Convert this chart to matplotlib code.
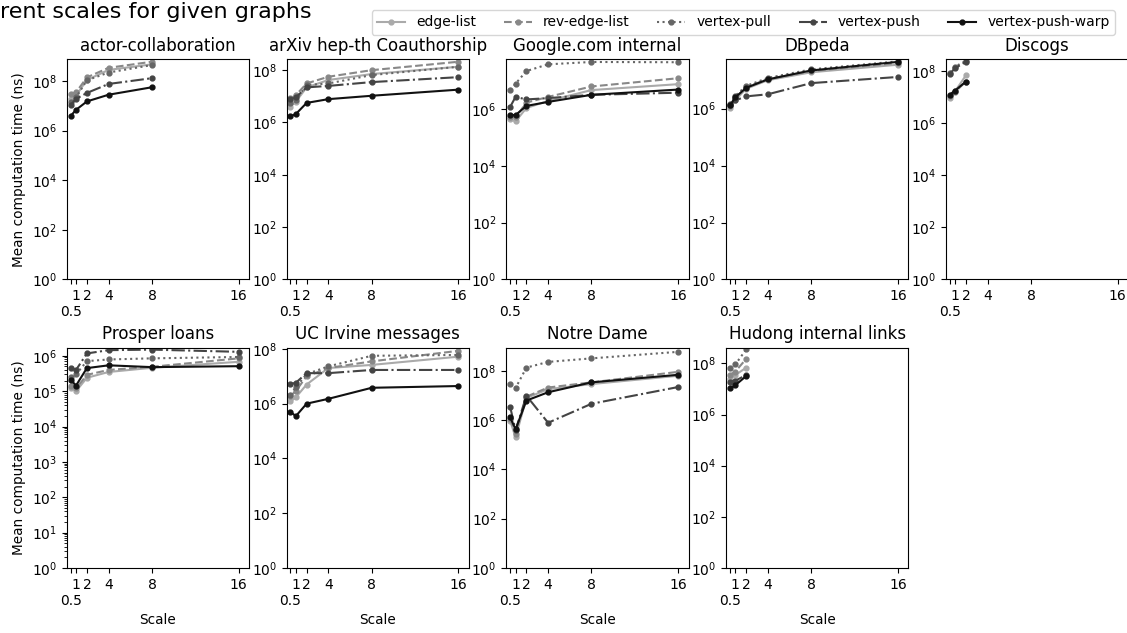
import numpy as np
import matplotlib
matplotlib.use("Agg")
import matplotlib.pyplot as plt
from matplotlib.ticker import LogLocator

scales = [0.5, 1, 2, 4, 8, 16]
methods = ["edge-list", "rev-edge-list", "vertex-pull", "vertex-push", "vertex-push-warp"]
colors = ["#aaaaaa", "#888888", "#666666", "#444444", "#111111"]
styles = ["-", "--", ":", "-.", "-"]

graphs = ["actor-collaboration", "arXiv hep-th Coauthorship", "Google.com internal",
          "DBpeda", "Discogs", "Prosper loans", "UC Irvine messages", "Notre Dame",
          "Hudong internal links"]

# mean time in ns, one row per method (same order as methods)
actor_collab = [
    [1.9e7, 2.6e7, 1.1e8, 2.8e8, 4.7e8],
    [3.0e7, 3.5e7, 1.4e8, 3.4e8, 6.0e8],
    [1.4e7, 2.2e7, 1.07e8, 2.2e8, 4.4e8],
    [1.07e7, 1.9e7, 3.3e7, 7.6e7, 1.3e8],
    [3.9e6, 6.9e6, 1.5e7, 2.8e7, 5.6e7],
]
arxiv = [
    [4.0e6, 6.2e6, 2.2e7, 4.2e7, 7.1e7, 1.35e8],
    [8.3e6, 1.1e7, 3.1e7, 5.6e7, 1.0e8, 2.1e8],
    [5.4e6, 7.1e6, 2.7e7, 3.1e7, 6.5e7, 1.35e8],
    [7.6e6, 9.1e6, 2.2e7, 2.5e7, 3.5e7, 5.4e7],
    [1.7e6, 2.1e6, 5.6e6, 7.8e6, 1.05e7, 1.8e7],
]
google = [
    [4.5e5, 3.7e5, 1.1e6, 1.95e6, 4.7e6, 7.6e6],
    [5.4e5, 5.1e5, 1.7e6, 2.7e6, 6.3e6, 1.23e7],
    [4.8e6, 7.9e6, 2.2e7, 3.8e7, 4.6e7, 4.5e7],
    [1.2e6, 2.7e6, 2.2e6, 2.45e6, 3.2e6, 3.8e6],
    [6.2e5, 6.2e5, 1.3e6, 1.8e6, 3.2e6, 4.9e6],
]
dbpeda = [
    [1.05e6, 2.0e6, 5.0e6, 1.0e7, 1.9e7, 3.5e7],
    [1.2e6, 2.3e6, 5.6e6, 1.1e7, 2.1e7, 4.0e7],
    [1.5e6, 2.8e6, 6.3e6, 1.2e7, 2.4e7, 4.6e7],
    [1.3e6, 1.95e6, 2.7e6, 3.2e6, 7.9e6, 1.3e7],
    [1.3e6, 2.5e6, 5.4e6, 1.07e7, 2.2e7, 4.4e7],
]
discogs = [
    [9.5e6, 1.7e7, 6.9e7],
    [1.1e7, 1.6e7, 4.0e7],
    [8.9e7, 1.5e8, 2.5e8],
    [7.9e7, 1.3e8, 2.3e8],
    [1.25e7, 1.8e7, 4.0e7],
]
prosper = [
    [1.25e5, 1.0e5, 2.4e5, 3.5e5, 4.6e5, 6.8e5],
    [1.45e5, 1.2e5, 2.9e5, 4.0e5, 4.9e5, 8.5e5],
    [2.6e5, 3.0e5, 7.1e5, 7.9e5, 8.5e5, 9.3e5],
    [4.6e5, 4.0e5, 1.17e6, 1.45e6, 1.5e6, 1.3e6],
    [2.1e5, 1.45e5, 4.5e5, 5.4e5, 4.8e5, 5.1e5],
]
uc_irvine = [
    [1.2e6, 1.7e6, 5.0e6, 2.0e7, 2.6e7, 5.2e7],
    [1.9e6, 2.9e6, 1.0e7, 2.0e7, 3.5e7, 8.5e7],
    [2.1e6, 4.0e6, 1.2e7, 2.3e7, 5.6e7, 6.0e7],
    [5.2e6, 5.8e6, 1.3e7, 1.3e7, 1.7e7, 1.7e7],
    [5.1e5, 3.5e5, 1.0e6, 1.5e6, 3.8e6, 4.4e6],
]
notre_dame = [
    [9.5e5, 2.0e5, 7.9e6, 1.8e7, 2.9e7, 6.3e7],
    [1.1e6, 2.8e5, 8.9e6, 2.1e7, 3.4e7, 9.1e7],
    [2.8e7, 2.0e7, 1.35e8, 2.3e8, 3.2e8, 5.9e8],
    [3.5e6, 3.8e5, 9.8e6, 7.8e5, 4.6e6, 2.2e7],
    [1.3e6, 4.2e5, 6.2e6, 1.35e7, 3.4e7, 6.9e7],
]
hudong = [
    [2.5e7, 3.5e7, 6.8e7],
    [3.5e7, 4.8e7, 1.5e8],
    [6.8e7, 9.1e7, 3.5e8],
    [1.95e7, 2.1e7, 3.5e7],
    [1.07e7, 1.4e7, 3.2e7],
]
results = [actor_collab, arxiv, google, dbpeda, discogs, prosper, uc_irvine, notre_dame, hudong]

fig, axes = plt.subplots(2, 5, figsize=(11.27, 6.33), dpi=100)
fig.subplots_adjust(left=0.0594, right=1.0009, bottom=0.1027, top=0.9068,
                    wspace=0.207, hspace=0.309)

for i, ax in enumerate(axes.flat):
    if i >= len(graphs):
        ax.axis("off")
        continue
    data = results[i]
    for m in range(len(methods)):
        y = data[m]
        ax.plot(scales[:len(y)], y, linestyle=styles[m], color=colors[m],
                marker="o", markersize=3.5, linewidth=1.5, label=methods[m])
    ax.set_yscale("log")
    ax.yaxis.set_major_locator(LogLocator(base=10, numticks=7))
    ax.set_ylim(bottom=1)
    ax.set_xlim(0.16, 16.95)
    # 0.5 sits on a second row under the 1 / 2 labels
    ax.set_xticks(scales[1:])
    ax.set_xticks([0.5], ["0.5"], minor=True)
    ax.tick_params(axis="x", which="both", labelsize=10, length=3.5, width=0.8)
    ax.tick_params(axis="x", which="minor", pad=15)
    ax.tick_params(axis="y", labelsize=10)
    ax.set_title(graphs[i], fontsize=12)
    if i % 5 == 0:
        ax.set_ylabel("Mean computation time (ns)", fontsize=9.8)
    if i >= 5:
        ax.set_xlabel("Scale", fontsize=9.8)

handles, labels = axes[0, 0].get_legend_handles_labels()
fig.legend(handles, labels, loc="upper right", ncol=5, fontsize=10,
           bbox_to_anchor=(0.9956, 0.9953))
fig.text(0.0, 0.981, "rent scales for given graphs", ha="left", va="center", fontsize=16)

fig.savefig("out.png", dpi=100)
